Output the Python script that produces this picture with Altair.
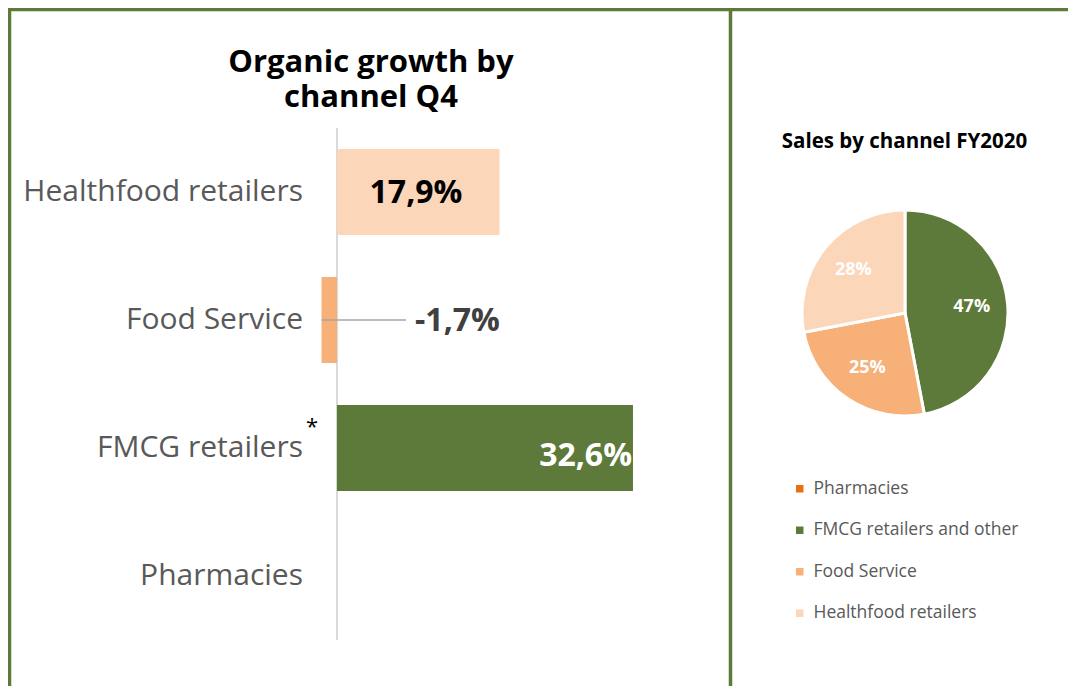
import altair as alt
import pandas as pd

# ---- data ----
bar_categories = ["Healthfood retailers", "Food Service", "FMCG retailers", "Pharmacies"]
growth_values = [17.9, -1.7, 32.6, None]
growth_labels = ["17,9%", "-1,7%", "32,6%", ""]

pie_categories = ["Pharmacies", "FMCG retailers and other", "Food Service", "Healthfood retailers"]
pie_shares = [0, 47, 25, 28]

title_left_lines = ["Organic growth by", "channel Q4"]
title_right = "Sales by channel FY2020"

# ---- styles ----
GREEN = "#5e7a3a"
bar_palette = {"Healthfood retailers": "#fcd6b8", "Food Service": "#f6b078",
               "FMCG retailers": GREEN, "Pharmacies": "#e46c0a"}
pie_palette = ["#e8700f", GREEN, "#f6b078", "#fcd6b8"]
FONT = "Open Sans"
W, H = 1060, 678

bars_df = pd.DataFrame({"cat": bar_categories, "growth": growth_values, "label": growth_labels})
bars_df["col"] = bars_df["cat"].map(bar_palette)
pie_df = pd.DataFrame({"cat": pie_categories, "share": pie_shares, "ord": list(range(len(pie_categories)))})
pie_df["label"] = pie_df["share"].map(lambda v: f"{v}%")

xs = alt.Scale(domain=[-36.23, 80.51], nice=False, zero=False)
ys = alt.Scale(domain=bar_categories, range=[120, 632], paddingInner=0.33, paddingOuter=0.165)
X = lambda f: alt.X(f, scale=xs, axis=None)
Y = alt.Y("cat:N", scale=ys, axis=None, sort=bar_categories)

base = alt.Chart(bars_df)
one = pd.DataFrame({"k": [0]})

# borders
bt = alt.Chart(one).mark_rule(color=GREEN, strokeWidth=3.5)
top = bt.encode(x=alt.value(0), x2=alt.value(W + 20), y=alt.value(1.5))
left = bt.encode(x=alt.value(1.5), y=alt.value(0), y2=alt.value(H + 20))
mid = bt.encode(x=alt.value(722.5), y=alt.value(0), y2=alt.value(H + 20))

# zero axis line
axis_line = alt.Chart(one).transform_calculate(zero="0").mark_rule(
    color="#d9d9d9", strokeWidth=2).encode(x=X("zero:Q"), y=alt.value(120), y2=alt.value(632))

bars = base.mark_bar().encode(x=X("growth:Q"), y=Y, fill=alt.Fill("col:N", scale=None))

cat_text = base.mark_text(align="right", baseline="middle", font=FONT, fontSize=30,
                          color="#595959").encode(y=Y, x=alt.value(295), text="cat:N")
asterisk = base.transform_filter(alt.datum.cat == "FMCG retailers").mark_text(
    align="left", baseline="middle", font=FONT, fontSize=22, color="#000000",
    dy=-21).encode(y=Y, x=alt.value(298), text=alt.value("*"))

lab_hf = base.transform_filter(alt.datum.cat == "Healthfood retailers").transform_calculate(
    px="datum.growth / 2 - 0.25").mark_text(align="center", baseline="middle", font=FONT,
    fontSize=32, fontWeight="bold", color="#000000", dy=1).encode(x=X("px:Q"), y=Y, text="label:N")
lab_fs = base.transform_filter(alt.datum.cat == "Food Service").transform_calculate(
    px="8.6").mark_text(align="left", baseline="middle", font=FONT,
    fontSize=32, fontWeight="bold", color="#404040", dy=1).encode(x=X("px:Q"), y=Y, text="label:N")
leader = base.transform_filter(alt.datum.cat == "Food Service").transform_calculate(
    px2="7.6").mark_rule(color="#a6a6a6", strokeWidth=1.5).encode(
    x=X("growth:Q"), x2="px2:Q", y=Y)
lab_fm = base.transform_filter(alt.datum.cat == "FMCG retailers").mark_text(
    align="right", baseline="middle", font=FONT, fontSize=32, fontWeight="bold",
    color="#ffffff", dx=-1, dy=8).encode(x=X("growth:Q"), y=Y, text="label:N")

title_style = dict(align="center", baseline="middle", font=FONT, fontSize=31,
                   fontWeight="bold", color="#000000")
title_l1 = alt.Chart(one).mark_text(**title_style).encode(
    x=alt.value(363), y=alt.value(55), text=alt.value(title_left_lines[0]))
title_l2 = alt.Chart(one).mark_text(**title_style).encode(
    x=alt.value(363), y=alt.value(90), text=alt.value(title_left_lines[1]))
title_r = alt.Chart(one).mark_text(align="center", baseline="middle", font=FONT, fontSize=20.5,
    fontWeight="bold", color="#000000").encode(
    x=alt.value(896.5), y=alt.value(134), text=alt.value(title_right))

pie_base = alt.Chart(pie_df).encode(
    theta=alt.Theta("share:Q", stack=True),
    order=alt.Order("ord:Q"),
)
color_enc = alt.Color("cat:N", scale=alt.Scale(domain=pie_categories, range=pie_palette),
    sort=pie_categories,
    legend=alt.Legend(title=None, orient="none", legendX=783, legendY=472, labelFont=FONT,
                      labelFontSize=17.5, labelColor="#595959", symbolType="square",
                      symbolSize=56, symbolStrokeWidth=0, rowPadding=22.5, padding=0,
                      labelOffset=5, labelLimit=320))
pie = pie_base.mark_arc(outerRadius=103, stroke="#ffffff", strokeWidth=3).encode(
    color=color_enc, x=alt.value(897), y=alt.value(305))
pie_text = pie_base.transform_filter(alt.datum.share > 0).mark_text(
    radius=67, font=FONT, fontSize=18, fontWeight="bold", color="#ffffff").encode(
    text="label:N", x=alt.value(897), y=alt.value(305))

chart = alt.layer(
    top, left, mid, axis_line, bars, leader, cat_text, asterisk, lab_hf, lab_fs, lab_fm,
    title_l1, title_l2, title_r, pie, pie_text
).properties(
    width=W, height=H, padding=0, autosize=alt.AutoSizeParams(type="none"),
).configure_view(stroke=None)

chart.save("out.html", embed_options={"renderer": "svg", "actions": False})
